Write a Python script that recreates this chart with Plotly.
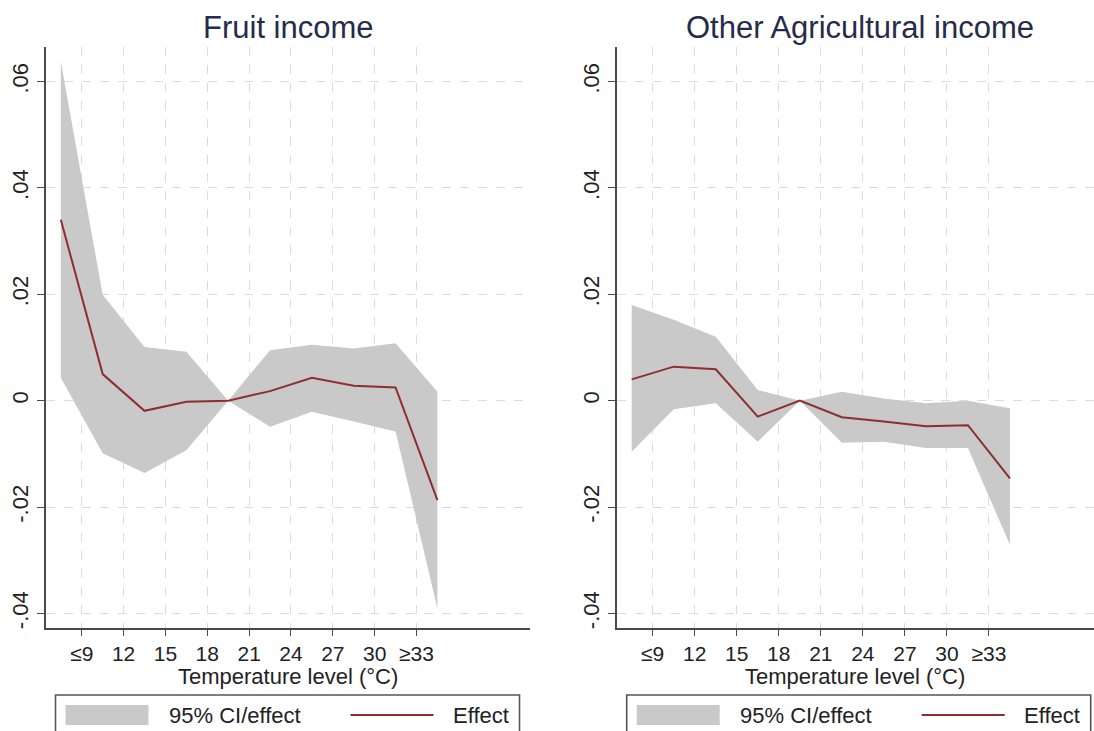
import plotly.graph_objects as go
from plotly.subplots import make_subplots

# ---------------- data ----------------
bin_centers = [7.5, 10.5, 13.5, 16.5, 19.5, 22.5, 25.5, 28.5, 31.5, 34.5]
tick_vals = [9, 12, 15, 18, 21, 24, 27, 30, 33]
tick_text = ["≤9", "12", "15", "18", "21", "24", "27", "30", "≥33"]
y_tick_vals = [-0.04, -0.02, 0, 0.02, 0.04, 0.06]
y_tick_text = ["-.04", "-.02", "0", ".02", ".04", ".06"]

fruit_effect = [0.0340, 0.0050, -0.0019, -0.0002, 0.0, 0.0018, 0.0043, 0.0028, 0.0025, -0.0187]
fruit_upper = [0.0637, 0.0199, 0.0101, 0.0092, 0.0, 0.0095, 0.0105, 0.0098, 0.0108, 0.0017]
fruit_lower = [0.0043, -0.0099, -0.0136, -0.0093, 0.0, -0.0049, -0.0021, -0.0039, -0.0058, -0.0390]

other_effect = [0.0040, 0.0064, 0.0059, -0.0030, 0.0, -0.0031, -0.0039, -0.0048, -0.0046, -0.0146]
other_upper = [0.0180, 0.0152, 0.0120, 0.0020, 0.0, 0.0017, 0.0004, -0.0005, 0.0000, -0.0014]
other_lower = [-0.0096, -0.0016, -0.0005, -0.0077, 0.0, -0.0079, -0.0077, -0.0089, -0.0089, -0.0271]

titles = ["Fruit income", "Other Agricultural income"]
x_title = "Temperature level (°C)"
legend_ci = "95% CI/effect"
legend_eff = "Effect"

# ---------------- style ----------------
W, H = 1094, 731
FONT = "Liberation Sans, Arial, sans-serif"
CI_COLOR = "#c9c9c9"
LINE_COLOR = "#8e2e2e"
AXIS_COLOR = "#4a4a4a"
GRID_COLOR = "#dcdcdc"
TEXT_COLOR = "#222222"
TITLE_COLOR = "#262b4a"

# plot regions in pixels
panels = [
    dict(x0=45.5, x1=530.0, xr=[6.40, 41.14]),
    dict(x0=616.7, x1=1094.0, xr=[6.43, 40.5]),
]
y_top_px, y_bot_px = 46.7, 627.7
y_range = [-0.04267, 0.06654]


def px_x(p):
    return p / W


def px_y(p):
    return (H - p) / H


fig = make_subplots(rows=1, cols=2)

series = [(fruit_effect, fruit_upper, fruit_lower), (other_effect, other_upper, other_lower)]
for i, (eff, up, lo) in enumerate(series):
    col = i + 1
    fig.add_trace(
        go.Scatter(
            x=bin_centers + bin_centers[::-1],
            y=up + lo[::-1],
            fill="toself",
            fillcolor=CI_COLOR,
            line=dict(width=0, color=CI_COLOR),
            mode="lines",
            name=legend_ci,
            showlegend=False,
            hoverinfo="skip",
        ),
        row=1, col=col,
    )
    fig.add_trace(
        go.Scatter(
            x=bin_centers, y=eff, mode="lines",
            line=dict(color=LINE_COLOR, width=2),
            name=legend_eff, showlegend=False,
        ),
        row=1, col=col,
    )

axis_common = dict(
    showline=True, linecolor=AXIS_COLOR, linewidth=1.6,
    showgrid=True, gridcolor=GRID_COLOR, gridwidth=1.4, griddash="dash",
    ticks="outside", tickwidth=1.4, tickcolor=AXIS_COLOR,
    zeroline=False, mirror=False,
)

for i, p in enumerate(panels):
    xa = "xaxis" if i == 0 else "xaxis2"
    ya = "yaxis" if i == 0 else "yaxis2"
    fig.layout[xa].update(
        domain=[px_x(p["x0"]), px_x(p["x1"])],
        range=p["xr"],
        tickvals=tick_vals, ticktext=tick_text,
        ticklen=6,
        tickfont=dict(family=FONT, size=21, color=TEXT_COLOR),
        **axis_common,
    )
    fig.layout[ya].update(
        domain=[px_y(y_bot_px), px_y(y_top_px)],
        range=y_range,
        tickvals=y_tick_vals, ticktext=y_tick_text,
        tickangle=-90, ticklen=7,
        tickfont=dict(family=FONT, size=22, color=TEXT_COLOR),
        **axis_common,
    )

annotations = []
shapes = []
title_centers = [288.0, 859.6]
for i, p in enumerate(panels):
    # title
    annotations.append(dict(
        text=titles[i], x=px_x(title_centers[i]), y=px_y(27), xref="paper", yref="paper",
        xanchor="center", yanchor="middle", showarrow=False,
        font=dict(family=FONT, size=31, color=TITLE_COLOR),
    ))
    # x title
    xc = (p["x0"] + min(p["x1"], p["x0"] + 484.5)) / 2
    annotations.append(dict(
        text=x_title, x=px_x(xc), y=px_y(676), xref="paper", yref="paper",
        xanchor="center", yanchor="middle", showarrow=False,
        font=dict(family=FONT, size=22, color=TEXT_COLOR),
    ))
    # legend box
    bx0 = p["x0"] + 10
    bx1 = p["x0"] + 474
    shapes.append(dict(
        type="rect", xref="paper", yref="paper",
        x0=px_x(bx0), x1=px_x(bx1), y0=px_y(760), y1=px_y(695),
        line=dict(color="#555555", width=1.6), fillcolor="white", layer="above",
    ))
    shapes.append(dict(
        type="rect", xref="paper", yref="paper",
        x0=px_x(bx0 + 10), x1=px_x(bx0 + 93), y0=px_y(725), y1=px_y(705),
        line=dict(width=0), fillcolor=CI_COLOR, layer="above",
    ))
    annotations.append(dict(
        text=legend_ci, x=px_x(bx0 + 111), y=px_y(715), xref="paper", yref="paper",
        xanchor="left", yanchor="middle", showarrow=False,
        font=dict(family=FONT, size=22, color=TEXT_COLOR),
    ))
    shapes.append(dict(
        type="line", xref="paper", yref="paper",
        x0=px_x(bx0 + 295), x1=px_x(bx0 + 378), y0=px_y(715), y1=px_y(715),
        line=dict(color=LINE_COLOR, width=2), layer="above",
    ))
    annotations.append(dict(
        text=legend_eff, x=px_x(bx0 + 395), y=px_y(715), xref="paper", yref="paper",
        xanchor="left", yanchor="middle", showarrow=False,
        font=dict(family=FONT, size=22, color=TEXT_COLOR),
    ))

fig.update_layout(
    width=W, height=H,
    margin=dict(l=0, r=0, t=0, b=0),
    paper_bgcolor="white", plot_bgcolor="white",
    showlegend=False,
    annotations=annotations,
    shapes=shapes,
    font=dict(family=FONT, color=TEXT_COLOR),
)

fig.write_html(
    "out.html",
    config={"displayModeBar": False},
    post_script="document.body.style.margin='0px';document.body.style.padding='0px';document.body.style.overflow='hidden';",
)
